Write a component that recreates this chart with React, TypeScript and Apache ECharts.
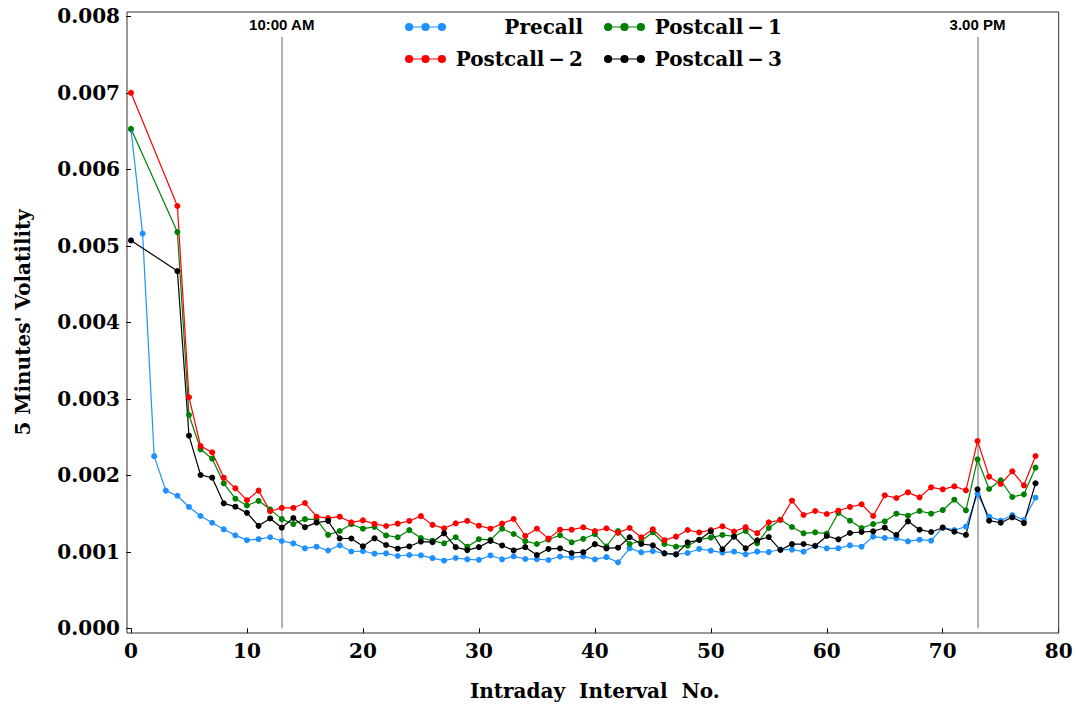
import React, { useEffect, useRef } from 'react';
import * as echarts from 'echarts';

// Intraday interval numbers (x values)
const intervals = Array.from({ length: 79 }, (_, i) => i);

const precall = [
  0.00652, 0.00516, 0.00225, 0.0018, 0.001733, 0.001586, 0.001468, 0.00138, 0.001294, 0.001215,
  0.001152, 0.001165, 0.00119, 0.001141, 0.00111, 0.001046, 0.001067, 0.001017, 0.001085, 0.001004,
  0.00101, 0.000975, 0.00098, 0.000945, 0.000958, 0.000954, 0.000917, 0.000884, 0.000919, 0.000902,
  0.000895, 0.000952, 0.000902, 0.000941, 0.000906, 0.000904, 0.000893, 0.000938, 0.000928, 0.000941,
  0.000902, 0.00093, 0.000863, 0.001046, 0.000993, 0.00101, 0.00098, 0.000967, 0.000984, 0.001037,
  0.001015, 0.000989, 0.001002, 0.000967, 0.001002, 0.000997, 0.00103, 0.001028, 0.001002, 0.00108,
  0.001046, 0.001046, 0.001085, 0.001067, 0.001198, 0.001181, 0.001176, 0.001137, 0.001158, 0.001145,
  0.00132, 0.001285, 0.001328, 0.001756, 0.001459, 0.001407, 0.001481, 0.001416, 0.001707,
];

const postcall1 = [
  0.00653, null, null, null, 0.00518, 0.002788, 0.00234, 0.002217, 0.001895, 0.001694,
  0.001605, 0.001666, 0.001555, 0.001427, 0.001363, 0.001427, 0.001425, 0.001222, 0.001272, 0.00136,
  0.001302, 0.001326, 0.001214, 0.00119, 0.001283, 0.00118, 0.001145, 0.001111, 0.00119, 0.001067,
  0.001165, 0.001156, 0.001302, 0.001233, 0.001139, 0.001102, 0.00116, 0.001216, 0.001124, 0.00117,
  0.00123, 0.00107, 0.001272, 0.001102, 0.001141, 0.001255, 0.001102, 0.001067, 0.00108, 0.001158,
  0.001185, 0.00122, 0.001202, 0.001272, 0.001111, 0.001311, 0.00142, 0.001324, 0.001242, 0.001255,
  0.001237, 0.001507, 0.001407, 0.001311, 0.001363, 0.001398, 0.001498, 0.001472, 0.001533, 0.001498,
  0.001546, 0.001681, 0.001542, 0.002209, 0.001821, 0.001934, 0.001716, 0.001751, 0.0021,
];

const postcall2 = [
  0.007, null, null, null, 0.00552, 0.00302, 0.002383, 0.0023, 0.001969, 0.00183,
  0.001675, 0.0018, 0.00153, 0.001575, 0.001573, 0.001638, 0.001459, 0.00144, 0.001459, 0.001385,
  0.001411, 0.001365, 0.001337, 0.001368, 0.001403, 0.001466, 0.001352, 0.001307, 0.001372, 0.001405,
  0.001341, 0.001302, 0.001368, 0.001429, 0.001207, 0.001302, 0.001172, 0.001289, 0.001289, 0.00132,
  0.001272, 0.001307, 0.001248, 0.001311, 0.00119, 0.001294, 0.001152, 0.001198, 0.001285, 0.001253,
  0.001285, 0.001333, 0.001265, 0.001322, 0.001244, 0.001385, 0.001416, 0.001668, 0.001481, 0.001533,
  0.001494, 0.001537, 0.001586, 0.001621, 0.001468, 0.001738, 0.001703, 0.001777, 0.001712, 0.001843,
  0.001817, 0.001856, 0.001804, 0.002448, 0.001982, 0.001886, 0.002052, 0.001869, 0.002252,
];

const postcall3 = [
  0.00507, null, null, null, 0.00467, 0.002518, 0.002004, 0.001969, 0.001634, 0.00159,
  0.001509, 0.001339, 0.001436, 0.001315, 0.001442, 0.001322, 0.001382, 0.001403, 0.001176, 0.001174,
  0.001072, 0.001176, 0.001089, 0.001041, 0.00107, 0.001134, 0.001126, 0.001242, 0.001061, 0.001022,
  0.001061, 0.001141, 0.001083, 0.001018, 0.001061, 0.000958, 0.001037, 0.001044, 0.000984, 0.000995,
  0.0011, 0.001044, 0.001054, 0.00119, 0.001102, 0.001085, 0.00098, 0.000967, 0.001124, 0.001154,
  0.001268, 0.001033, 0.001198, 0.001046, 0.00115, 0.001193, 0.001024, 0.0011, 0.001102, 0.001076,
  0.001207, 0.001163, 0.001246, 0.001259, 0.001268, 0.001315, 0.00122, 0.001398, 0.001289, 0.001259,
  0.001315, 0.001263, 0.00122, 0.001817, 0.001407, 0.00138, 0.001451, 0.001376, 0.001895,
];

const seriesNames = ['Precall', 'Postcall\u2009\u2212\u20091', 'Postcall\u2009\u2212\u20092', 'Postcall\u2009\u2212\u20093'];
const seriesColors = ['#1E90FF', '#008000', '#FF0000', '#000000'];
const seriesValues = [precall, postcall1, postcall2, postcall3];

const refLines = [
  { x: 13, label: '10:00 AM' },
  { x: 73, label: '3.00 PM' },
];
const refLineBottom = 0;
const refLineTop = 0.00773;

const SERIF = 'DejaVu Serif';
const SANS = 'Liberation Sans';

const legendIcon =
  'path://M0,5A4,4,0,1,1,8,5A4,4,0,1,1,0,5Z M16,5A4,4,0,1,1,24,5A4,4,0,1,1,16,5Z M32,5A4,4,0,1,1,40,5A4,4,0,1,1,32,5Z M4,4.4H36V5.6H4Z';

export default function App() {
  const ref = useRef<HTMLDivElement>(null);

  useEffect(() => {
    const chart = echarts.init(ref.current as HTMLDivElement, null, { renderer: 'svg' });

    const series: any[] = seriesNames.map((name, s) => ({
      name,
      type: 'line',
      data: intervals
        .map((x, i) => [x, seriesValues[s][i]])
        .filter((p) => p[1] !== null && p[1] !== undefined),
      symbol: 'circle',
      symbolSize: 6,
      showSymbol: true,
      color: seriesColors[s],
      lineStyle: { width: 1.2, color: seriesColors[s] },
      itemStyle: { color: seriesColors[s] },
      emphasis: { disabled: true },
      z: 3,
    }));

    series[0].markLine = {
      silent: true,
      symbol: ['none', 'none'],
      animation: false,
      z: 1,
      lineStyle: { color: '#999999', width: 1.5, type: 'solid' },
      label: {
        show: true,
        position: 'end',
        formatter: '{b}',
        color: '#000',
        fontFamily: SANS,
        fontWeight: 'bold',
        fontSize: 15,
        distance: 5,
      },
      data: refLines.map((r) => [
        { name: r.label, coord: [r.x, refLineBottom] },
        { coord: [r.x, refLineTop] },
      ]),
    };

    const legendText = (w: number) => ({
      fontFamily: SERIF,
      fontWeight: 'bold',
      fontSize: 20,
      color: '#000',
      rich: {
        r: { width: w, align: 'right', fontFamily: SERIF, fontWeight: 'bold', fontSize: 20, color: '#000' },
      },
    });

    const legendCommon = {
      orient: 'horizontal',
      left: 400,
      icon: legendIcon,
      itemWidth: 41,
      itemHeight: 9,
      itemGap: 21,
      selectedMode: false,
      formatter: (n: string) => '{r|' + n + '}',
      textStyle: legendText(132),
    };

    chart.setOption({
      animation: false,
      backgroundColor: '#ffffff',
      grid: {
        left: 131,
        right: 17.3,
        top: 16.3,
        bottom: 82.7,
        containLabel: false,
        outerBoundsMode: 'none',
      },
      legend: [
        { ...legendCommon, top: 12, data: [seriesNames[0], seriesNames[1]] },
        { ...legendCommon, top: 44, data: [seriesNames[2], seriesNames[3]] },
      ],
      xAxis: {
        type: 'value',
        min: 0,
        max: 80,
        interval: 10,
        offset: 5,
        name: 'Intraday  Interval  No.',
        nameLocation: 'middle',
        nameGap: 48,
        nameTextStyle: { fontFamily: SERIF, fontWeight: 'bold', fontSize: 20, color: '#000' },
        axisLine: { show: false },
        axisTick: { show: true, length: 5, lineStyle: { color: '#000' } },
        axisLabel: { fontFamily: SERIF, fontWeight: 'bold', fontSize: 20, color: '#000', margin: 8 },
        splitLine: { show: false },
      },
      yAxis: {
        type: 'value',
        min: 0,
        max: 0.008,
        interval: 0.001,
        offset: 4,
        name: "5 Minutes' Volatility",
        nameLocation: 'middle',
        nameGap: 94,
        nameRotate: 90,
        nameTextStyle: { fontFamily: SERIF, fontWeight: 'bold', fontSize: 20, color: '#000' },
        axisLine: { show: false },
        axisTick: { show: true, length: 5, lineStyle: { color: '#000' } },
        axisLabel: {
          fontFamily: SERIF,
          fontWeight: 'bold',
          fontSize: 20,
          color: '#000',
          margin: 7,
          formatter: (v: number) => v.toFixed(3),
        },
        splitLine: { show: false },
      },
      graphic: [
        {
          type: 'rect',
          shape: { x: 127, y: 12, width: 931.7, height: 621 },
          style: { fill: 'none', stroke: '#333', lineWidth: 1 },
          silent: true,
          z: 10,
        },
      ],
      series,
    });

    return () => chart.dispose();
  }, []);

  return (
    <div
      ref={ref}
      style={{ position: 'absolute', left: 0, top: 0, width: 1076, height: 711 }}
    />
  );
}
